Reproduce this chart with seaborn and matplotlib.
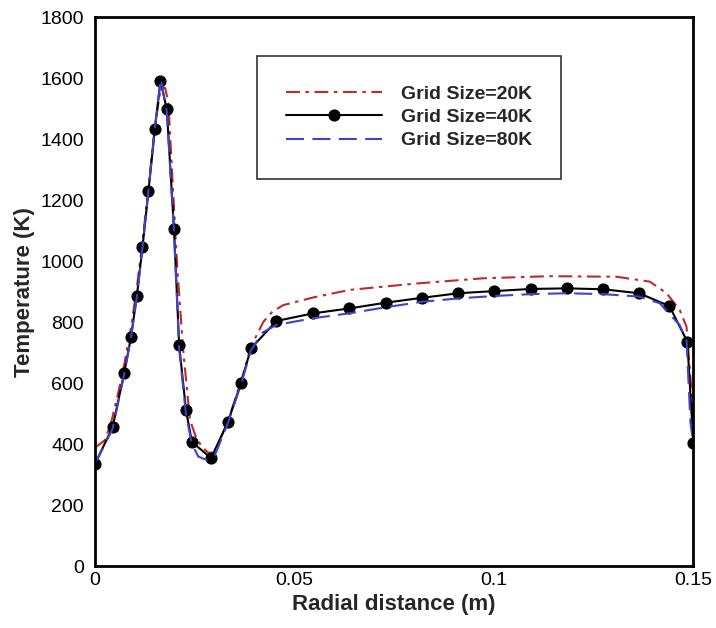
import matplotlib
matplotlib.use("Agg")
import matplotlib.pyplot as plt
from matplotlib.ticker import FixedLocator, MultipleLocator
import seaborn as sns

# Radial temperature profiles computed on three grid resolutions
r_20k = [0.0, 0.0025, 0.0042, 0.0058, 0.0073, 0.0090, 0.0105, 0.0120, 0.0135,
         0.0150, 0.0165, 0.0176, 0.0184, 0.0196, 0.0206, 0.0221, 0.0238, 0.0251,
         0.0267, 0.0284, 0.0300, 0.0333, 0.0366, 0.0391, 0.0422, 0.0445, 0.0472,
         0.0550, 0.0639, 0.0806, 0.0973, 0.1141, 0.1308, 0.1391, 0.1433, 0.1466,
         0.1483, 0.1494, 0.1500]
T_20k = [388, 413, 479, 567, 660, 780, 915, 1075, 1255,
         1440, 1570, 1568, 1520, 1223, 982, 709, 480, 430,
         392, 372, 372, 475, 605, 720, 801, 835, 856,
         882, 906, 927, 944, 951, 949, 933, 895, 840,
         785, 600, 400]

r_40k = [0.0, 0.0044, 0.0073, 0.0090, 0.0105, 0.0119, 0.0134, 0.0150, 0.0164,
         0.0180, 0.0198, 0.0211, 0.0228, 0.0243, 0.0291, 0.0333, 0.0366, 0.0391,
         0.0455, 0.0547, 0.0637, 0.0729, 0.0820, 0.0911, 0.1001, 0.1092, 0.1183,
         0.1274, 0.1364, 0.1440, 0.1485, 0.1500]
T_40k = [335, 455, 632, 750, 887, 1046, 1230, 1433, 1592,
         1498, 1106, 725, 512, 407, 354, 472, 600, 714,
         804, 829, 845, 864, 880, 895, 902, 909, 911,
         908, 895, 853, 736, 403]

r_80k = [0.0, 0.0044, 0.0073, 0.0090, 0.0105, 0.0119, 0.0134, 0.0150, 0.0165,
         0.0180, 0.0198, 0.0211, 0.0228, 0.0243, 0.0259, 0.0280, 0.0300, 0.0333,
         0.0366, 0.0391, 0.0420, 0.0455, 0.0547, 0.0637, 0.0729, 0.0820, 0.0911,
         0.1001, 0.1092, 0.1183, 0.1274, 0.1364, 0.1416, 0.1466, 0.1483, 0.1493,
         0.1500]
T_80k = [335, 450, 628, 748, 885, 1045, 1232, 1438, 1598,
         1490, 1095, 712, 498, 400, 359, 348, 362, 468,
         596, 708, 766, 791, 813, 829, 849, 867, 878,
         886, 892, 895, 892, 884, 862, 790, 740, 469,
         403]

series_labels = ["Grid Size=20K", "Grid Size=40K", "Grid Size=80K"]
x_ticks = [0, 0.05, 0.1, 0.15]
x_tick_labels = ["0", "0.05", "0.1", "0.15"]
y_ticks = list(range(0, 1801, 200))
x_label = "Radial distance (m)"
y_label = "Temperature (K)"

sns.set_style("white")
plt.rcParams["font.family"] = ["Liberation Sans", "DejaVu Sans"]
plt.rcParams["lines.scale_dashes"] = False

fig = plt.figure(figsize=(7.16, 6.28), dpi=100)
ax = fig.add_axes([0.1327, 0.0987, 0.8356, 0.8736])

red = "#C0282C"
blue = "#3C44C8"

sns.lineplot(x=r_20k, y=T_20k, ax=ax, color=red, linewidth=1.5,
             linestyle=(0, (10, 4, 2.5, 4)), label=series_labels[0],
             estimator=None, sort=False, legend=False)
sns.lineplot(x=r_40k, y=T_40k, ax=ax, color="black", linewidth=1.5,
             marker="o", markersize=8, markerfacecolor="black",
             markeredgecolor="black", label=series_labels[1],
             estimator=None, sort=False, legend=False)
sns.lineplot(x=r_80k, y=T_80k, ax=ax, color=blue, linewidth=1.5,
             linestyle=(0, (13, 6)), label=series_labels[2],
             estimator=None, sort=False, legend=False)

ax.set_xlim(0, 0.15)
ax.set_ylim(0, 1800)
ax.xaxis.set_major_locator(FixedLocator(x_ticks))
ax.set_xticklabels(x_tick_labels)
ax.xaxis.set_minor_locator(MultipleLocator(0.01))
ax.yaxis.set_major_locator(FixedLocator(y_ticks))
ax.set_yticklabels([str(v) for v in y_ticks])
ax.yaxis.set_minor_locator(MultipleLocator(50))

ax.tick_params(which="both", direction="in", top=False, right=False,
               colors="black")
ax.tick_params(which="major", length=9, width=1.4, labelsize=14)
ax.tick_params(axis="y", which="major", pad=8)
ax.tick_params(axis="x", which="major", pad=4)
ax.tick_params(which="minor", length=5, width=0.9)

for side in ["left", "bottom", "top", "right"]:
    ax.spines[side].set_visible(True)
    ax.spines[side].set_color("black")
    ax.spines[side].set_linewidth(2.0)

ax.set_xlabel(x_label, fontsize=16, fontweight="bold", labelpad=4)
ax.set_ylabel(y_label, fontsize=16, fontweight="bold", labelpad=4)

leg = ax.legend(loc="upper left", bbox_to_anchor=(0.271, 0.93),
                prop={"weight": "bold", "size": 14}, frameon=True,
                fancybox=False, shadow=False, handlelength=4.9,
                handletextpad=1.0, labelspacing=0.3, borderpad=1.5,
                borderaxespad=0.0)
leg.get_frame().set_edgecolor("#333333")
leg.get_frame().set_linewidth(1.2)
leg.get_frame().set_alpha(1.0)

fig.savefig("out.png", dpi=100)
